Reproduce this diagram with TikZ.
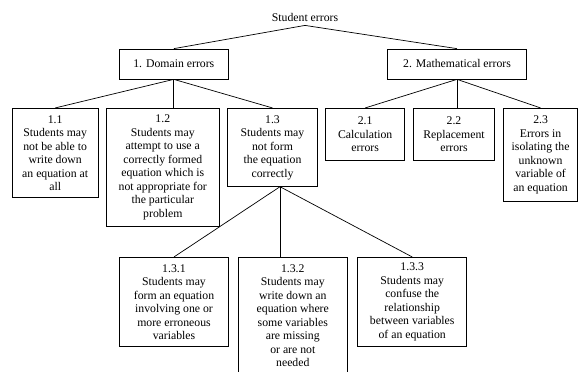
\documentclass[tikz,border=0pt]{standalone}
\usepackage{fontspec}
\setmainfont{Liberation Serif}
\usetikzlibrary{positioning}

\begin{document}
\begin{tikzpicture}[x=0.8504pt, y=-0.8504pt, line width=0.6pt,
  font=\fontsize{10}{11.5}\selectfont,
  box/.style={draw, rectangle, align=center, inner sep=1pt}]
  \useasboundingbox (0,0) rectangle (579,371);

  \node (root) at (305,17) {Student errors};
  \node[box, minimum width=109pt*0.8504, minimum height=30pt*0.8504] (dom) at (173.8,64) {1. Domain errors};
  \node[box, minimum width=139.4pt*0.8504, minimum height=30pt*0.8504] (mat) at (457,64) {2. Mathematical errors};

  % domain errors
  \node[box, minimum width=86.3pt*0.8504, minimum height=89.4pt*0.8504] (e11) at (55.2,153) {1.1\\Students may\\not be able to\\write down\\an equation at\\all};
  \node[box, minimum width=112.3pt*0.8504, minimum height=118.4pt*0.8504] (e12) at (162.8,167.5) {1.2\\Students may\\attempt to use a\\correctly formed\\equation which is\\not appropriate for\\the particular\\problem};
  \node[box, minimum width=89.6pt*0.8504, minimum height=78.4pt*0.8504] (e13) at (272.5,147.5) {1.3\\Students may\\not form\\the equation\\correctly};

  % mathematical errors
  \node[box, minimum width=79pt*0.8504, minimum height=52.4pt*0.8504] (e21) at (365.2,134.5) {2.1\\Calculation\\errors};
  \node[box, minimum width=81.4pt*0.8504, minimum height=52.4pt*0.8504] (e22) at (454,134.5) {2.2\\Replacement\\errors};
  \node[box, minimum width=73.8pt*0.8504, minimum height=93.4pt*0.8504] (e23) at (540.6,155) {2.3\\Errors in\\isolating the\\unknown\\variable of\\an equation};

  % sub-errors of 1.3
  \node[box, minimum width=109.4pt*0.8504, minimum height=89.4pt*0.8504] (e131) at (174,302) {1.3.1\\Students may\\form an equation\\involving one or\\more erroneous\\variables};
  \node[box, minimum width=109pt*0.8504, minimum height=116.7pt*0.8504] (e132) at (292.8,315.7) {1.3.2\\Students may\\write down an\\equation where\\some variables\\are missing\\or are not\\needed};
  \node[box, minimum width=109pt*0.8504, minimum height=89.4pt*0.8504] (e133) at (412.2,302) {1.3.3\\Students may\\confuse the\\relationship\\between variables\\of an equation};

  \coordinate (hub) at (280,186.7);

  \draw (root.south) -- (dom.north);
  \draw (root.south) -- (mat.north);
  \draw (dom.south) -- (e11.north);
  \draw (dom.south) -- (dom.south |- e12.north);
  \draw (dom.south) -- (e13.north);
  \draw (mat.south) -- (e21.north);
  \draw (mat.south) -- (mat.south |- e22.north);
  \draw (mat.south) -- (e23.north);
  \draw (hub) -- (e131.north);
  \draw (hub) -- (hub |- e132.north);
  \draw (hub) -- (e133.north);
\end{tikzpicture}
\end{document}
